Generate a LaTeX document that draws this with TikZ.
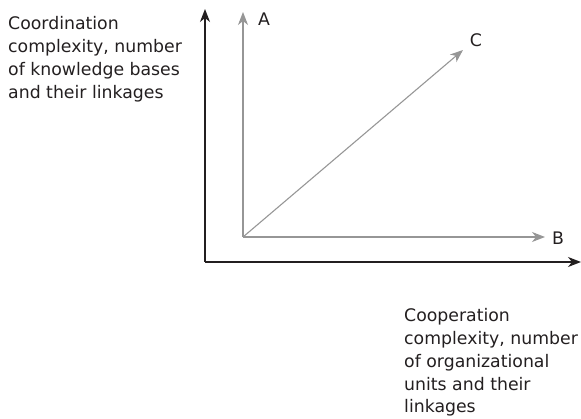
\documentclass[tikz,border=0pt]{standalone}
\usepackage{fontspec}
\setmainfont{DejaVu Sans}
\usetikzlibrary{arrows.meta}
\definecolor{axgray}{RGB}{150,150,150}
\definecolor{txt}{RGB}{35,31,32}
\tikzset{
  axis/.style={draw=txt, line width=1.3pt, -{Stealth[length=13pt,width=10pt,inset=4pt]}},
  vec/.style={draw=axgray, line width=1.1pt, -{Stealth[length=13pt,width=10pt,inset=4pt]}},
  lbl/.style={font=\fontsize{17.3}{22.9}\selectfont, text=txt, inner sep=0pt},
  para/.style={lbl, align=left, anchor=north west}
}
\begin{document}
\begin{tikzpicture}[x=1pt,y=-1pt]
\useasboundingbox (0,0) rectangle (581,419);
\coordinate (O) at (205,262);
\coordinate (Ytip) at (205,9);
\coordinate (Xtip) at (581,262);
\coordinate (P) at (243,237);
\coordinate (Atip) at (243,12);
\coordinate (Btip) at (545,237);
\coordinate (Ctip) at (463,50);
\draw[axis] (O) -- (Ytip);
\draw[axis] (O) -- (Xtip);
\draw[vec] (P) -- (Atip);
\draw[vec] (P) -- (Btip);
\draw[vec] (P) -- (Ctip);
\node[lbl] (A) at (264,19) {A};
\node[lbl] (B) at (558,238) {B};
\node[lbl] (C) at (476,40) {C};
\node[para] (ylab) at (8,16) {Coordination\\complexity, number\\of knowledge bases\\and their linkages};
\node[para] (xlab) at (404,308) {Cooperation\\complexity, number\\of organizational\\units and their\\linkages};
\end{tikzpicture}
\end{document}
